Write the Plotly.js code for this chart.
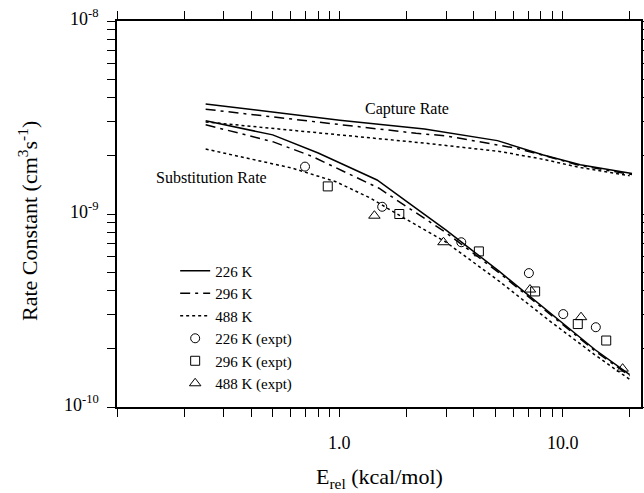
<!DOCTYPE html>
<html>
<head>
<meta charset="utf-8">
<script src="https://cdn.plot.ly/plotly-3.0.1.min.js"></script>
<style>html,body{margin:0;padding:0;background:#fff;}#chart{width:644px;height:493px;}</style>
</head>
<body>
<div id="chart"></div>
<script>
// ---- Data ----
// Capture rate (theory)
const capX226 = [0.25, 0.5, 1.0, 2.4, 5.1, 8.2, 12, 20.5];
const capY226 = [3.72e-9, 3.38e-9, 3.06e-9, 2.76e-9, 2.40e-9, 2.02e-9, 1.80e-9, 1.62e-9];
const capX296 = [0.25, 0.5, 1.0, 2.2, 3.0, 4.2, 6.2, 8.8, 12, 20.5];
const capY296 = [3.49e-9, 3.19e-9, 2.91e-9, 2.62e-9, 2.54e-9, 2.37e-9, 2.19e-9, 1.97e-9, 1.78e-9, 1.60e-9];
const capX488 = [0.25, 0.5, 1.0, 2.4, 5.2, 8.2, 12, 20];
const capY488 = [3.0e-9, 2.77e-9, 2.56e-9, 2.33e-9, 2.11e-9, 1.92e-9, 1.74e-9, 1.58e-9];
// Substitution rate (theory)
const subX226 = [0.25, 0.5, 0.8, 1.47, 2.0, 3.0, 5.2, 8.8, 14, 20];
const subY226 = [3.04e-9, 2.57e-9, 2.07e-9, 1.50e-9, 1.16e-9, 8.25e-10, 5.04e-10, 3.07e-10, 1.98e-10, 1.47e-10];
const subX296 = [0.25, 0.5, 0.75, 1.5, 2.1, 3.0, 5.2, 8.8, 14, 20];
const subY296 = [2.90e-9, 2.37e-9, 1.99e-9, 1.36e-9, 1.05e-9, 8.0e-10, 4.95e-10, 3.03e-10, 1.95e-10, 1.45e-10];
const subX488 = [0.25, 0.61, 0.96, 1.37, 1.95, 2.97, 5.2, 8.8, 13.9, 20];
const subY488 = [2.17e-9, 1.73e-9, 1.47e-9, 1.21e-9, 9.5e-10, 7.2e-10, 4.48e-10, 2.78e-10, 1.87e-10, 1.39e-10];
// Experiment
const expX226 = [0.698, 1.55, 3.51, 7.06, 10.07, 14.1];
const expY226 = [1.76e-9, 1.09e-9, 7.14e-10, 4.94e-10, 3.03e-10, 2.59e-10];
const expX296 = [0.883, 1.85, 4.21, 7.53, 11.7, 15.7];
const expY296 = [1.39e-9, 1.00e-9, 6.40e-10, 3.97e-10, 2.69e-10, 2.21e-10];
const expX488 = [1.43, 2.92, 7.14, 12.1, 18.6];
const expY488 = [9.8e-10, 7.14e-10, 4.06e-10, 2.92e-10, 1.58e-10];
// Labels
const seriesNames = ["226 K", "296 K", "488 K", "226 K (expt)", "296 K (expt)", "488 K (expt)"];
const xTickVals = [1, 10];
const xTickText = ["1.0", "10.0"];
const yTickVals = [1e-10, 1e-9, 1e-8];
const yTickText = ["10<sup>-10</sup>", "10<sup>-9</sup>", "10<sup>-8</sup>"];
const xTitle = "E<sub>rel</sub> (kcal/mol)";
const yTitle = "Rate Constant (cm<sup>3</sup>s<sup>-1</sup>)";

const FONT = "Liberation Serif";
const dashDot = "10px,5px,3px,5px";
const dotted = "3px,3px";
const X_RANGE = [-1, 1.352];
const Y_RANGE = [-10, -8];

function line(x, y, dash, name, show) {
  return {x: x, y: y, type: 'scatter', mode: 'lines', name: name, showlegend: show,
          line: {color: 'black', width: 1.5, dash: dash}, hoverinfo: 'skip'};
}
function pts(x, y, sym, size, name) {
  return {x: x, y: y, type: 'scatter', mode: 'markers', name: name,
          marker: {symbol: sym, size: size, color: 'black', line: {color: 'black', width: 1}}};
}

const data = [
  line(capX226, capY226, 'solid', seriesNames[0], true),
  line(capX296, capY296, dashDot, seriesNames[1], true),
  line(capX488, capY488, dotted, seriesNames[2], true),
  line(subX226, subY226, 'solid', seriesNames[0], false),
  line(subX296, subY296, dashDot, seriesNames[1], false),
  line(subX488, subY488, dotted, seriesNames[2], false),
  pts(expX226, expY226, 'circle-open', 9, seriesNames[3]),
  pts(expX296, expY296, 'square-open', 9, seriesNames[4]),
  pts(expX488, expY488, 'triangle-up-open', 10, seriesNames[5])
];

// paper-fraction position of a value on a log axis range
function fracLog(v, range) { return (Math.log10(v) - range[0]) / (range[1] - range[0]); }

const annotations = [];
xTickVals.forEach((v, i) => annotations.push({
  text: xTickText[i], xref: 'paper', yref: 'paper', x: fracLog(v, X_RANGE), y: -0.093,
  xanchor: 'center', yanchor: 'middle', showarrow: false, font: {family: FONT, size: 18, color: 'black'}}));
yTickVals.forEach((v, i) => annotations.push({
  text: yTickText[i], xref: 'paper', yref: 'paper', x: -0.03, y: fracLog(v, Y_RANGE) + 0.008,
  xanchor: 'right', yanchor: 'middle', showarrow: false, font: {family: FONT, size: 18, color: 'black'}}));
annotations.push({text: xTitle, xref: 'paper', yref: 'paper', x: 0.5, y: -0.184,
  xanchor: 'center', yanchor: 'middle', showarrow: false, font: {family: FONT, size: 22, color: 'black'}});
annotations.push({text: yTitle, xref: 'paper', yref: 'paper', x: -0.171, y: 0.483, textangle: -90,
  xanchor: 'center', yanchor: 'middle', showarrow: false, font: {family: FONT, size: 22, color: 'black'}});
annotations.push({text: 'Capture Rate', xref: 'paper', yref: 'paper', x: 0.553, y: 0.771,
  xanchor: 'center', yanchor: 'middle', showarrow: false, font: {family: FONT, size: 16, color: 'black'}});
annotations.push({text: 'Substitution Rate', xref: 'paper', yref: 'paper', x: 0.180, y: 0.594,
  xanchor: 'center', yanchor: 'middle', showarrow: false, font: {family: FONT, size: 16, color: 'black'}});

const layout = {
  width: 644, height: 493,
  margin: {l: 117, r: 3, t: 21, b: 86},
  paper_bgcolor: 'white', plot_bgcolor: 'white',
  showlegend: true,
  legend: {x: 0.111, y: 0.395, xanchor: 'left', yanchor: 'top', bgcolor: 'rgba(0,0,0,0)',
           font: {family: FONT, size: 15, color: 'black'}, tracegroupgap: 0},
  xaxis: {
    type: 'log', range: X_RANGE, showgrid: false, zeroline: false,
    showline: true, linecolor: 'black', linewidth: 2, mirror: 'ticks',
    ticks: 'outside', ticklen: 8, tickwidth: 1, tickcolor: 'black',
    dtick: 'D1', showticklabels: false
  },
  yaxis: {
    type: 'log', range: Y_RANGE, showgrid: false, zeroline: false,
    showline: true, linecolor: 'black', linewidth: 2, mirror: 'ticks',
    ticks: 'outside', ticklen: 8, tickwidth: 1, tickcolor: 'black',
    dtick: 'D1', showticklabels: false
  },
  annotations: annotations
};

Plotly.newPlot('chart', data, layout, {displayModeBar: false});
</script>
</body>
</html>
